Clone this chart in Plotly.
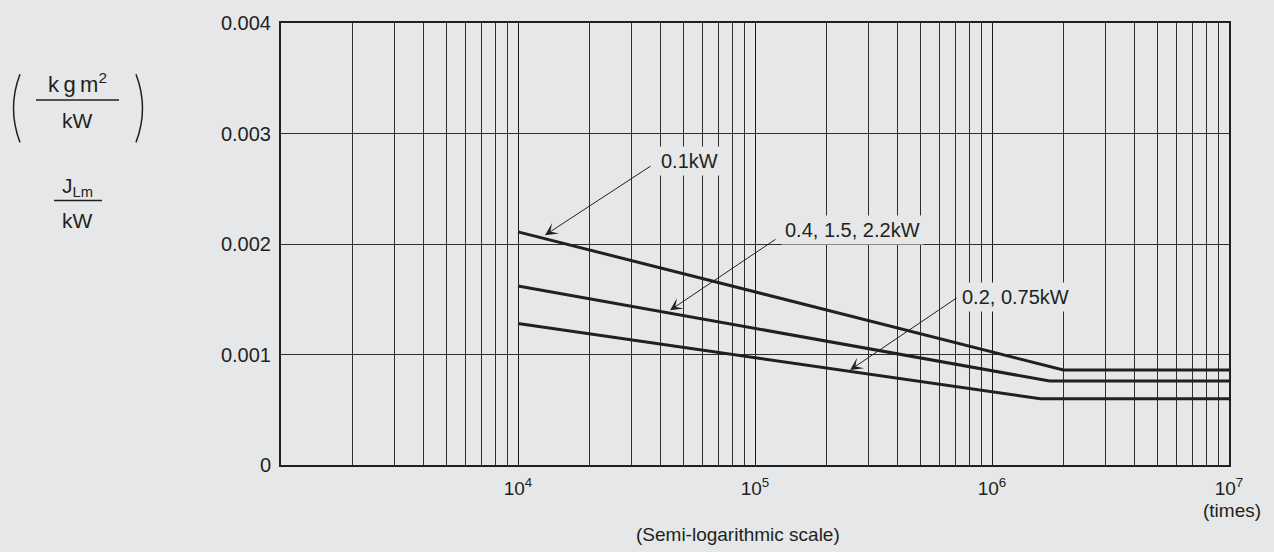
import math
import plotly.graph_objects as go

# ---- data ----
cycles_01kw = [1e4, 2.0e6, 1e7]
jlm_01kw = [0.00211, 0.00086, 0.00086]

cycles_04kw = [1e4, 1.75e6, 1e7]
jlm_04kw = [0.00162, 0.00076, 0.00076]

cycles_02kw = [1e4, 1.6e6, 1e7]
jlm_02kw = [0.00128, 0.00060, 0.00060]

x_tick_vals = [1e4, 1e5, 1e6, 1e7]
x_tick_text = ["10<sup>4</sup>", "10<sup>5</sup>", "10<sup>6</sup>", "10<sup>7</sup>"]
y_tick_vals = [0, 0.001, 0.002, 0.003, 0.004]
y_tick_text = ["0", "0.001", "0.002", "0.003", "0.004"]

labels = ["0.1kW", "0.4, 1.5, 2.2kW", "0.2, 0.75kW"]
arrow_x = [1.3e4, 4.38e4, 2.52e5]
arrow_y = [0.00208, 0.00140, 0.00086]

# ---- style ----
BG = "#e6e7e9"
INK = "#231f20"
FONT = "Liberation Sans, Arial, Helvetica, sans-serif"

W, H = 1274, 552
L, R, T, B = 281, 1229, 17, 465


def px(x):
    return (x - L) / (R - L)


def py(y):
    return (B - y) / (B - T)


fig = go.Figure()
for xs, ys, name in [(cycles_01kw, jlm_01kw, labels[0]),
                     (cycles_04kw, jlm_04kw, labels[1]),
                     (cycles_02kw, jlm_02kw, labels[2])]:
    fig.add_trace(go.Scatter(x=xs, y=ys, mode="lines", name=name,
                             line=dict(color=INK, width=3), showlegend=False,
                             hoverinfo="skip"))

minor_vals = [d * m for d in (1e3, 1e4, 1e5, 1e6) for m in range(2, 10)]

fig.update_layout(
    width=W, height=H,
    margin=dict(l=L, r=W - R, t=T, b=H - B, pad=0),
    paper_bgcolor=BG, plot_bgcolor=BG,
    font=dict(family=FONT, size=19, color=INK),
    showlegend=False,
)
fig.update_xaxes(
    type="log", range=[3, 7],
    tickmode="array", tickvals=x_tick_vals, ticktext=x_tick_text,
    showgrid=True, gridcolor="#1a1a1a", gridwidth=1,
    minor=dict(tickvals=minor_vals, showgrid=True, gridcolor="#2e2e2e",
               gridwidth=1, ticks=""),
    showline=True, mirror=True, linecolor=INK, linewidth=2,
    ticks="", ticklabelstandoff=5, zeroline=False,
    tickfont=dict(size=19, color=INK),
)
fig.update_yaxes(
    range=[0, 0.004],
    tickmode="array", tickvals=y_tick_vals, ticktext=y_tick_text,
    showgrid=True, gridcolor="#2e2e2e", gridwidth=1,
    showline=True, mirror=True, linecolor=INK, linewidth=2,
    ticks="", ticklabelstandoff=4, zeroline=False,
    tickfont=dict(size=20, color=INK),
)

# callout labels with arrows drawn from a point at the label's left side
tails = [(107, -70), (107, -72), (108, -73)]
label_pos = [(659, 157), (783, 227), (960, 295)]
for i in range(3):
    fig.add_annotation(x=math.log10(arrow_x[i]), y=arrow_y[i], xref="x", yref="y",
                       text="", showarrow=True, ax=tails[i][0], ay=tails[i][1],
                       arrowhead=3, arrowsize=2.1, arrowwidth=1, arrowcolor=INK,
                       standoff=0)
    fig.add_annotation(x=px(label_pos[i][0]) - 0.002, y=py(label_pos[i][1]),
                       xref="paper", yref="paper", text=labels[i],
                       showarrow=False, xanchor="left", yanchor="middle",
                       bgcolor=BG, borderpad=3,
                       font=dict(size=20, color=INK))

# axis titles
fig.add_annotation(x=px(738), y=py(535), xref="paper", yref="paper",
                   text="(Semi-logarithmic scale)", showarrow=False,
                   xanchor="center", yanchor="middle", font=dict(size=19, color=INK))
fig.add_annotation(x=px(1263), y=py(511), xref="paper", yref="paper",
                   text="(times)", showarrow=False,
                   xanchor="right", yanchor="middle", font=dict(size=19, color=INK))

# y-axis unit label: ( kgm^2 / kW )  and  J_Lm / kW
fig.add_annotation(x=px(77), y=py(78), xref="paper", yref="paper",
                   text="k\u2009g\u2009m<sup>2</sup>", showarrow=False,
                   xanchor="center", yanchor="middle", font=dict(size=22, color=INK))
fig.add_annotation(x=px(77), y=py(116), xref="paper", yref="paper",
                   text="kW", showarrow=False,
                   xanchor="center", yanchor="middle", font=dict(size=21, color=INK))
fig.add_annotation(x=px(77), y=py(183), xref="paper", yref="paper",
                   text="J<sub>Lm</sub>", showarrow=False,
                   xanchor="center", yanchor="middle", font=dict(size=21, color=INK))
fig.add_annotation(x=px(77), y=py(217), xref="paper", yref="paper",
                   text="kW", showarrow=False,
                   xanchor="center", yanchor="middle", font=dict(size=21, color=INK))

fig.add_shape(type="line", xref="paper", yref="paper",
              x0=px(36), x1=px(119), y0=py(95), y1=py(95),
              line=dict(color=INK, width=1.5))
fig.add_shape(type="line", xref="paper", yref="paper",
              x0=px(54), x1=px(102), y0=py(197), y1=py(197),
              line=dict(color=INK, width=1.5))


def paren(x_end, x_mid, y0, y1):
    return "M {:.5f},{:.5f} Q {:.5f},{:.5f} {:.5f},{:.5f}".format(
        px(x_end), py(y0), px(x_mid), py((y0 + y1) / 2), px(x_end), py(y1))


fig.add_shape(type="path", xref="paper", yref="paper",
              path=paren(20, 7, 69, 138), line=dict(color=INK, width=1.5))
fig.add_shape(type="path", xref="paper", yref="paper",
              path=paren(136, 149, 69, 138), line=dict(color=INK, width=1.5))

fig.write_html(
    "out.html",
    config={"displayModeBar": False},
    post_script="document.body.style.margin='0';document.body.style.padding='0';"
                "document.body.style.overflow='hidden';",
)
